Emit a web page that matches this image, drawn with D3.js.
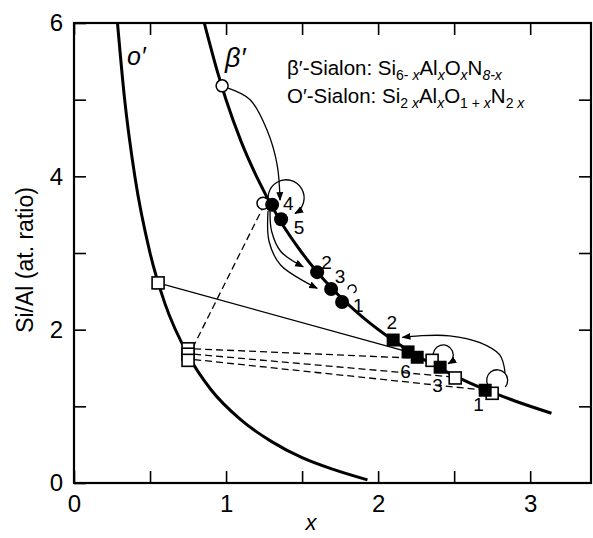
<!DOCTYPE html>
<head>
  <meta charset="utf-8">
  <style>
  body { margin: 0; background: #fff; }
  svg text { font-family: "Liberation Sans", Arial, sans-serif; fill: #000; }
  .axis path { display: none; }
  .axis line { stroke: #000; stroke-width: 1.6px; }
  .axis text { font-size: 24px; }
  .curve { fill: none; stroke: #000; stroke-width: 3px; }
  .thin { fill: none; stroke: #000; stroke-width: 1.3px; }
  .dash { fill: none; stroke: #000; stroke-width: 1.3px; stroke-dasharray: 7,4; }
  .num { font-size: 19px; text-anchor: middle; }
  </style>
  <script src="https://d3js.org/d3.v7.min.js"></script>
</head>

<body>
  <svg width="593" height="538"></svg>

  <script>

  // composition lines
  var betaX = [0.857, 0.95, 1.0, 1.1, 1.2, 1.35, 1.5, 1.7, 1.9, 2.1, 2.3, 2.5, 2.7, 2.9, 3.14];
  var betaY = [6.0, 5.32, 5.0, 4.45, 4.0, 3.44, 3.0, 2.53, 2.16, 1.86, 1.61, 1.40, 1.22, 1.07, 0.91];
  var oX = [0.286, 0.33, 0.4, 0.5, 0.6, 0.75, 0.9, 1.1, 1.3, 1.5, 1.7, 1.93];
  var oY = [6.0, 5.06, 4.0, 3.0, 2.33, 1.67, 1.22, 0.82, 0.54, 0.33, 0.18, 0.04];

  // beta' points (circles)
  var openCircles = [[0.974, 5.18], [1.243, 3.65]];
  var filledCircles = [[1.303, 3.63], [1.362, 3.44], [1.599, 2.75], [1.691, 2.53], [1.763, 2.36]];
  var circleLabels = ["4", "5", "2", "3", "1"];
  var circleLabelPos = [[1.41, 3.65], [1.48, 3.34], [1.66, 2.88], [1.75, 2.69], [1.87, 2.32]];

  // squares
  var filledSquares = [[2.099, 1.865], [2.197, 1.71], [2.257, 1.64], [2.408, 1.51], [2.704, 1.21]];
  var openSquares = [[2.355, 1.60], [2.507, 1.37], [2.75, 1.17], [0.553, 2.61], [0.75, 1.75], [0.75, 1.68], [0.75, 1.60]];
  var squareLabels = ["2", "6", "3", "1"];
  var squareLabelPos = [[2.09, 2.09], [2.18, 1.45], [2.39, 1.28], [2.66, 1.02]];

  // tie lines
  var solidTies = [[[0.553, 2.61], [2.197, 1.71]]];
  var dashedTies = [
    [[0.78, 1.76], [1.257, 3.65]],
    [[0.79, 1.75], [2.22, 1.63]],
    [[0.79, 1.68], [2.507, 1.38]],
    [[0.79, 1.61], [2.704, 1.21]]
  ];

  // arrows along the reaction path
  var arrowPaths = [
    [[1.013, 5.15], [1.158, 5.00], [1.270, 4.60], [1.336, 4.15], [1.355, 3.69]],
    [[1.289, 3.55], [1.300, 3.28], [1.360, 3.02], [1.507, 2.82]],
    [[1.276, 3.55], [1.283, 3.15], [1.360, 2.84], [1.599, 2.54]],
    [[2.835, 1.44], [2.80, 1.67], [2.67, 1.83], [2.47, 1.92], [2.27, 1.92], [2.16, 1.90]]
  ];
  // loops: centre, start and end angle (deg), arrowhead
  var loops = [
    [[1.395, 3.72], 150, 420, true],
    [[2.428, 1.67], 170, 420, true],
    [[2.783, 1.34], 150, 400, false],
    [[1.829, 2.53], 170, 430, false]
  ];
  var loopRadius = [18, 10, 10.5, 4];

  var svg = d3.select("svg");

  var x = d3.scaleLinear().domain([0, 3.4]).range([74, 591]);
  var y = d3.scaleLinear().domain([0, 6]).range([483, 23]);

  svg.append("defs").append("marker")
    .attr("id", "head")
    .attr("viewBox", "0 -4 9 8")
    .attr("refX", 8).attr("refY", 0)
    .attr("markerWidth", 9).attr("markerHeight", 8)
    .attr("markerUnits", "userSpaceOnUse")
    .attr("orient", "auto")
    .append("path").attr("d", "M0,-3.5L9,0L0,3.5Z").attr("fill", "#000");

  // axes, ticks pointing inward
  var halfTicks = [0, 0.5, 1, 1.5, 2, 2.5, 3];
  var fmtX = function(d) { return d % 1 === 0 ? d : ""; };
  svg.append("g").attr("class", "axis")
    .attr("transform", "translate(0," + y(0) + ")")
    .call(d3.axisBottom(x).tickValues(halfTicks).tickSize(-12).tickPadding(12).tickFormat(fmtX));
  svg.append("g").attr("class", "axis")
    .attr("transform", "translate(0," + y(6) + ")")
    .call(d3.axisTop(x).tickValues(halfTicks).tickSize(-12).tickFormat(""));
  svg.append("g").attr("class", "axis")
    .attr("transform", "translate(" + x(0) + ",0)")
    .call(d3.axisLeft(y).tickValues([0, 1, 2, 3, 4, 5, 6]).tickSize(-12).tickPadding(11)
      .tickFormat(function(d) { return d % 2 === 0 ? d : ""; }));
  svg.append("g").attr("class", "axis")
    .attr("transform", "translate(" + x(3.4) + ",0)")
    .call(d3.axisRight(y).tickValues([1, 2, 3, 4, 5]).tickSize(-12).tickFormat(""));

  svg.append("rect")
    .attr("x", x(0)).attr("y", y(6))
    .attr("width", x(3.4) - x(0)).attr("height", y(0) - y(6))
    .attr("fill", "none").attr("stroke", "#000").attr("stroke-width", 2.2);

  svg.append("text")
    .attr("transform", "translate(33,260) rotate(-90)")
    .attr("text-anchor", "middle")
    .style("font-size", "23px")
    .text("Si/Al (at. ratio)");

  svg.append("text")
    .attr("x", 311).attr("y", 530)
    .attr("text-anchor", "middle")
    .style("font-size", "22px").style("font-style", "italic")
    .text("x");

  // composition lines
  var line = d3.line()
    .x(function(d) { return x(d[0]); })
    .y(function(d) { return y(d[1]); })
    .curve(d3.curveMonotoneX);

  svg.append("path").attr("class", "curve")
    .attr("d", line(betaX.map(function(v, i) { return [v, betaY[i]]; })));
  svg.append("path").attr("class", "curve")
    .attr("d", line(oX.map(function(v, i) { return [v, oY[i]]; })));

  // tie lines
  var straight = d3.line()
    .x(function(d) { return x(d[0]); })
    .y(function(d) { return y(d[1]); });

  svg.selectAll(".tie").data(solidTies).enter().append("path")
    .attr("class", "thin").attr("d", straight);
  svg.selectAll(".dtie").data(dashedTies).enter().append("path")
    .attr("class", "dash").attr("d", straight);

  // arrows
  var smooth = d3.line()
    .x(function(d) { return x(d[0]); })
    .y(function(d) { return y(d[1]); })
    .curve(d3.curveCatmullRom);

  svg.selectAll(".arrow").data(arrowPaths).enter().append("path")
    .attr("class", "thin")
    .attr("d", smooth)
    .attr("marker-end", "url(#head)");

  svg.selectAll(".loop").data(loops).enter().append("path")
    .attr("class", "thin")
    .attr("d", function(d, i) {
      var p = d3.path();
      var a0 = d[1] * Math.PI / 180, a1 = d[2] * Math.PI / 180, r = loopRadius[i];
      var cx = x(d[0][0]), cy = y(d[0][1]);
      p.moveTo(cx + r * Math.cos(a0), cy + r * Math.sin(a0));
      p.arc(cx, cy, r, a0, a1, false);
      return p.toString();
    })
    .attr("marker-end", function(d) { return d[3] ? "url(#head)" : null; });

  // markers
  svg.selectAll(".oc").data(openCircles).enter().append("circle")
    .attr("cx", function(d) { return x(d[0]); })
    .attr("cy", function(d) { return y(d[1]); })
    .attr("r", 6)
    .attr("fill", "#fff").attr("stroke", "#000").attr("stroke-width", 1.5);

  svg.selectAll(".fc").data(filledCircles).enter().append("circle")
    .attr("cx", function(d) { return x(d[0]); })
    .attr("cy", function(d) { return y(d[1]); })
    .attr("r", 7)
    .attr("fill", "#000");

  svg.selectAll(".os").data(openSquares).enter().append("rect")
    .attr("x", function(d) { return x(d[0]) - 6; })
    .attr("y", function(d) { return y(d[1]) - 6; })
    .attr("width", 12).attr("height", 12)
    .attr("fill", "#fff").attr("stroke", "#000").attr("stroke-width", 1.6);

  svg.selectAll(".fs").data(filledSquares).enter().append("rect")
    .attr("x", function(d) { return x(d[0]) - 6.5; })
    .attr("y", function(d) { return y(d[1]) - 6.5; })
    .attr("width", 13).attr("height", 13)
    .attr("fill", "#000");

  // numbers next to the points
  svg.selectAll(".cl").data(circleLabelPos).enter().append("text")
    .attr("class", "num")
    .attr("x", function(d) { return x(d[0]); })
    .attr("y", function(d) { return y(d[1]); })
    .attr("dy", "0.35em")
    .text(function(d, i) { return circleLabels[i]; });

  svg.selectAll(".sl").data(squareLabelPos).enter().append("text")
    .attr("class", "num")
    .attr("x", function(d) { return x(d[0]); })
    .attr("y", function(d) { return y(d[1]); })
    .attr("dy", "0.35em")
    .text(function(d, i) { return squareLabels[i]; });

  // phase names
  svg.append("text").attr("x", 127).attr("y", 65)
    .style("font-size", "25px").style("font-style", "italic").text("o′");
  svg.append("text").attr("x", 225).attr("y", 67)
    .style("font-size", "27px").style("font-style", "italic").text("β′");

  // formulas
  var legend1 = [["β′-Sialon: Si"], ["6- ", 1], ["x", 1, 1], ["Al"], ["x", 1, 1], ["O"], ["x", 1, 1], ["N"], ["8-x", 1, 1]];
  var legend2 = [["O′-Sialon: Si"], ["2 ", 1], ["x", 1, 1], ["Al"], ["x", 1, 1], ["O"], ["1 + ", 1], ["x", 1, 1], ["N"], ["2 ", 1], ["x", 1, 1]];

  function formula(parts, yy) {
    var t = svg.append("text").attr("x", 287).attr("y", yy).style("font-size", "20.5px");
    var down = false;
    parts.forEach(function(p) {
      var s = t.append("tspan").text(p[0]);
      if (p[1] && !down) { s.attr("dy", 5); down = true; }
      else if (!p[1] && down) { s.attr("dy", -5); down = false; }
      if (p[1]) s.style("font-size", "14px");
      if (p[2]) s.style("font-style", "italic");
    });
  }
  formula(legend1, 75);
  formula(legend2, 103);

  </script>
</body>
